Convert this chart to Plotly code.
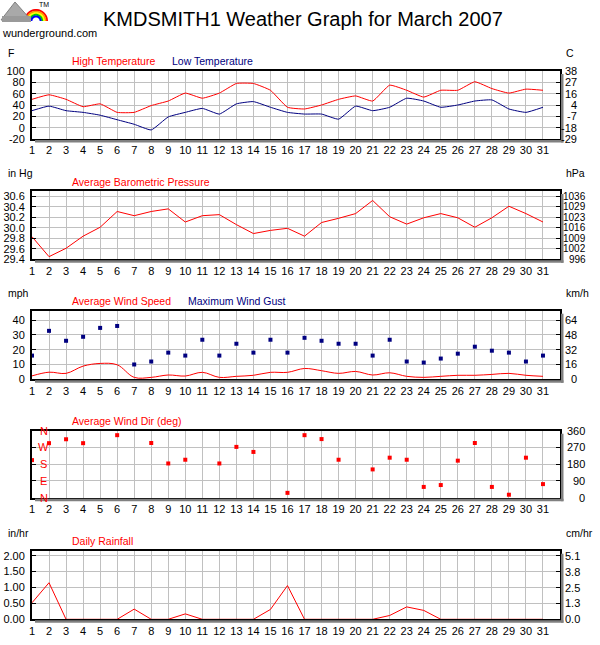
import numpy as np
import plotly.graph_objects as go

# ---------------- data ----------------
days = list(range(1, 32))
day_labels = [str(d) for d in days]

high_f = [50, 58, 50, 37, 42, 27, 27, 39, 47, 61, 52, 61, 78, 78, 66, 36, 33, 40, 50, 56,
          47, 75, 66, 54, 66, 66, 81, 69, 61, 68, 66]
low_f = [30, 38, 30, 27, 22, 14, 6, -4, 19, 27, 34, 24, 42, 46, 36, 27, 24, 24, 15, 38,
         30, 36, 52, 47, 36, 40, 47, 49, 33, 27, 36]

pressure_inhg = [29.83, 29.45, 29.61, 29.84, 30.01, 30.31, 30.23, 30.31, 30.36, 30.11,
                 30.23, 30.25, 30.06, 29.89, 29.95, 29.99, 29.84, 30.10, 30.18, 30.27,
                 30.52, 30.21, 30.07, 30.19, 30.27, 30.19, 30.01, 30.19, 30.41, 30.27, 30.11]

wind_avg_mph = [2.3, 4.8, 4.0, 8.9, 10.7, 9.8, 1.3, 1.3, 2.9, 2.2, 4.7, 1.3, 2.0, 2.7, 4.7,
                4.7, 7.3, 5.8, 4.0, 5.3, 2.9, 4.4, 2.0, 1.3, 2.0, 2.7, 2.7, 3.3, 4.0, 2.7, 2.0]
wind_gust_mph = [16, 32.7, 26, 28.7, 34.7, 36, 10, 12, 18, 16, 26.7, 16, 24, 18, 26.7, 18,
                 28, 26, 24, 24, 16, 26.7, 12, 11.3, 14, 17.3, 22, 19.3, 18, 12, 16]

wind_dir_deg = [202, 293, 314, 293, None, 336, None, 294, 184, 204, None, 184, 273, 246, None,
                26, 336, 315, 204, None, 152, 215, 204, 58, 68, 199, 294, 58, 16, 215, 73]

rain_in = [0.52, 1.15, 0, 0, 0, 0, 0.32, 0, 0, 0.17, 0, 0, 0, 0, 0.31, 1.06, 0, 0, 0, 0,
           0, 0.12, 0.39, 0.28, 0, 0, 0, 0, 0, 0, 0]

# tick values / labels
temp_ticks = [-20, 0, 20, 40, 60, 80, 100]
temp_right = ["-29", "-18", "-7", "4", "16", "27", "38"]
pres_ticks = [29.4, 29.6, 29.8, 30.0, 30.2, 30.4, 30.6]
pres_left = ["29.4", "29.6", "29.8", "30.0", "30.2", "30.4", "30.6"]
pres_right = ["996", "1002", "1009", "1016", "1023", "1029", "1036"]
wind_ticks = [0, 10, 20, 30, 40]
wind_right = ["0", "16", "32", "48", "64"]
dir_ticks = [0, 90, 180, 270, 360]
dir_left = ["N", "E", "S", "W", "N"]
dir_right = ["0", "90", "180", "270", "360"]
rain_ticks = [0, 0.5, 1.0, 1.5, 2.0]
rain_left = ["0.00", "0.50", "1.00", "1.50", "2.00"]
rain_right = ["0.0", "1.3", "2.5", "3.8", "5.1"]

# ---------------- styling ----------------
W, H = 600, 645
FONT = "Liberation Sans, Arial, Helvetica, sans-serif"
TICK = 11
RED = "#ff0000"
NAVY = "#000080"
GRID = "#c0c0c0"
SHADOW = "#808080"


def px(x):
    return x / W


def py(y):
    return 1 - y / H


X0, X1 = 32, 560
panels = [  # (top px, bottom px, y range)
    (71, 139, [-20, 100]),
    (191, 259.3, [29.4, 30.7]),
    (310.7, 379.3, [0, 46.3]),
    (430.7, 497.7, [0, 360]),
    (550.7, 619.3, [0, 2.157]),
]
left_ticks = [
    (temp_ticks, [str(t) for t in temp_ticks]),
    (pres_ticks, pres_left),
    (wind_ticks, [str(t) for t in wind_ticks]),
    (dir_ticks, None),
    (rain_ticks, rain_left),
]
right_ticks = [temp_right, pres_right, wind_right, dir_right, rain_right]
right_edge = [578, 587, 578, 586, 581]
right_size = [11, 10, 11, 11, 11]

fig = go.Figure()

fig.add_trace(go.Scatter(x=days, y=high_f, mode="lines", line=dict(color=RED, width=1, shape="spline", smoothing=0.4),
                         xaxis="x", yaxis="y", hoverinfo="skip"))
fig.add_trace(go.Scatter(x=days, y=low_f, mode="lines", line=dict(color=NAVY, width=1, shape="spline", smoothing=0.4),
                         xaxis="x", yaxis="y", hoverinfo="skip"))
fig.add_trace(go.Scatter(x=days, y=pressure_inhg, mode="lines", line=dict(color=RED, width=1),
                         xaxis="x2", yaxis="y2", hoverinfo="skip"))
fig.add_trace(go.Scatter(x=days, y=wind_avg_mph, mode="lines", line=dict(color=RED, width=1, shape="spline", smoothing=1),
                         xaxis="x3", yaxis="y3", hoverinfo="skip"))
fig.add_trace(go.Scatter(x=days, y=wind_gust_mph, mode="markers", marker=dict(color=NAVY, size=4, symbol="square"),
                         cliponaxis=False, xaxis="x3", yaxis="y3", hoverinfo="skip"))
fig.add_trace(go.Scatter(x=days, y=wind_dir_deg, mode="markers", marker=dict(color=RED, size=4, symbol="square"),
                         cliponaxis=False, xaxis="x4", yaxis="y4", hoverinfo="skip"))
fig.add_trace(go.Scatter(x=days, y=rain_in, mode="lines", line=dict(color=RED, width=1),
                         xaxis="x5", yaxis="y5", hoverinfo="skip"))

layout = dict(
    width=W, height=H, autosize=False,
    margin=dict(l=0, r=0, t=0, b=0),
    paper_bgcolor="white", plot_bgcolor="white",
    showlegend=False,
    font=dict(family=FONT, size=TICK, color="black"),
)

annotations = []
shapes = []

for i, (top, bot, yr) in enumerate(panels):
    n = "" if i == 0 else str(i + 1)
    tv, tt = left_ticks[i]
    layout["xaxis" + n] = dict(
        domain=[px(X0), px(X1)], range=[1, 32], anchor="y" + n,
        tickvals=days, ticktext=day_labels, ticks="",
        showgrid=True, gridcolor=GRID, gridwidth=1, zeroline=False,
        showline=True, linecolor="black", linewidth=2, mirror=True,
        tickfont=dict(family=FONT, size=TICK, color="black"),
        automargin=False, fixedrange=True,
    )
    ya = dict(
        domain=[py(bot), py(top)], range=yr, anchor="x" + n,
        tickvals=tv, ticks="inside", ticklen=4, tickcolor="black", tickwidth=1,
        showgrid=True, gridcolor=GRID, gridwidth=1, zeroline=False,
        showline=True, linecolor="black", linewidth=2, mirror="ticks",
        tickfont=dict(family=FONT, size=TICK, color="black"),
        automargin=False, fixedrange=True, ticklabelstandoff=3,
    )
    if tt is None:
        ya["showticklabels"] = False
    else:
        ya["ticktext"] = tt
    layout["yaxis" + n] = ya

    for v, lab in zip(tv, right_ticks[i]):
        annotations.append(dict(xref="paper", yref="y" + n, x=px(right_edge[i]), y=v, text=lab,
                                showarrow=False, xanchor="right", yanchor="middle", borderpad=0,
                                font=dict(family=FONT, size=right_size[i], color="black")))
    shapes.append(dict(type="rect", xref="paper", yref="paper", layer="above",
                       x0=px(X0 + 3), x1=px(X1 + 3.5), y0=py(bot + 3.5), y1=py(bot + 1),
                       fillcolor=SHADOW, line=dict(width=0)))
    shapes.append(dict(type="rect", xref="paper", yref="paper", layer="above",
                       x0=px(X1 + 1), x1=px(X1 + 3.5), y0=py(bot + 3.5), y1=py(top + 3),
                       fillcolor=SHADOW, line=dict(width=0)))

for v, lab in zip(dir_ticks, dir_left):
    annotations.append(dict(xref="paper", yref="y4", x=px(43.5), y=v, text=lab, showarrow=False,
                            xanchor="center", yanchor="middle",
                            font=dict(family=FONT, size=11, color=RED)))


def txt(x, y, text, color="black", size=TICK, anchor="left"):
    annotations.append(dict(xref="paper", yref="paper", x=px(x), y=py(y), text=text,
                            showarrow=False, xanchor=anchor, yanchor="middle",
                            font=dict(family=FONT, size=size, color=color)))


txt(303, 19, "KMDSMITH1 Weather Graph for March 2007", size=20, anchor="center")

unit_left = ["F", "in Hg", "mph", None, "in/hr"]
unit_right = ["C", "hPa", "km/h", None, "cm/hr"]
series_names = [
    [("High Temperature", RED, 70), ("Low Temperature", NAVY, 170)],
    [("Average Barometric Pressure", RED, 70)],
    [("Average Wind Speed", RED, 70), ("Maximum Wind Gust", NAVY, 186)],
    [("Average Wind Dir (deg)", RED, 70)],
    [("Daily Rainfall", RED, 70)],
]
for i, (top, bot, yr) in enumerate(panels):
    if unit_left[i]:
        txt(6, top - 18, unit_left[i], size=10.5)
    if unit_right[i]:
        txt(564, top - 18, unit_right[i], size=10.5)
    for name, col, x in series_names[i]:
        txt(x, top - 9.5, name, color=col, size=10.5)

# logo
cx, cy = 36, 21
rain_cols = ["#ff0000", "#ff9900", "#ffff00", "#00cc00", "#0000ff"]
for k, col in enumerate(rain_cols):
    r = 11 - k * 1.6
    th = np.linspace(np.pi, 0, 20)
    pts = [(cx + r * np.cos(t), cy - r * np.sin(t)) for t in th]
    path = "M " + " L ".join(f"{px(a):.5f},{py(b):.5f}" for a, b in pts)
    shapes.append(dict(type="path", xref="paper", yref="paper", path=path,
                       line=dict(color=col, width=2), layer="above"))
mountain = [(1, 20), (15, 2), (31, 20)]
shapes.append(dict(type="path", xref="paper", yref="paper",
                   path="M " + " L ".join(f"{px(a):.5f},{py(b):.5f}" for a, b in mountain) + " Z",
                   fillcolor="#a9a9a9", line=dict(color="#808080", width=1), layer="above"))
shapes.append(dict(type="rect", xref="paper", yref="paper", x0=px(2), x1=px(31), y0=py(22), y1=py(16),
                   fillcolor="#9a9a9a", line=dict(width=0), layer="above"))
txt(37, 4, "TM", size=7)
txt(0, 33, "wunderground.com", size=11)

layout["annotations"] = annotations
layout["shapes"] = shapes
fig.update_layout(**layout)

fig.write_html("out.html", config={"staticPlot": True},
               post_script="document.body.style.margin='0';document.body.style.overflow='hidden';")
